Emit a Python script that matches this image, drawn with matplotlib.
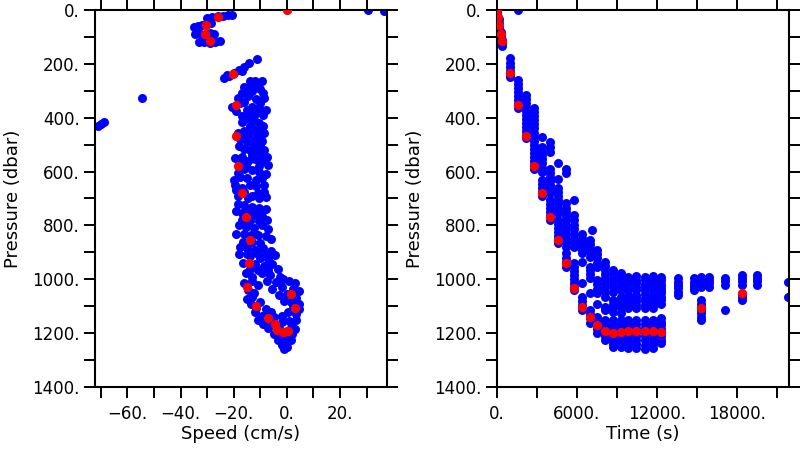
import numpy as np
import matplotlib.pyplot as plt
from matplotlib.ticker import MultipleLocator, FuncFormatter

plt.rcParams['font.family'] = ['DejaVu Sans']

surface = [(30.5, 0), (36.5, 2),
           (-30, 31), (-28, 27), (-26, 24), (-24, 22), (-22, 20), (-20.5, 18),
           (-35, 62), (-33.5, 58), (-32, 55), (-30, 52), (-28.5, 48),
           (-34.5, 90), (-33, 86), (-31.5, 92), (-29, 85), (-27.5, 90),
           (-33, 120), (-31, 118), (-29, 122), (-27, 118), (-25, 116)]
outliers = [(-54.4, 328), (-71, 430), (-70, 422), (-69, 415)]
upper = [(-23.8, 254), (-21.9, 245), (-20, 235), (-18.1, 223), (-16.2, 210),
         (-14.4, 198), (-22.5, 240), (-17, 228), (-11.3, 183),
         (-12, 262), (-9.5, 262), (-13.5, 275), (-11, 280), (-15.5, 295),
         (-13, 300), (-17, 310), (-9, 310), (-8.5, 328),
         (-14, 265), (-11, 270), (-16, 285), (-12.5, 290), (-10, 295),
         (-18.5, 325), (-14.5, 320), (-11.5, 330), (-16, 340), (-10, 345),
         (-20.5, 360), (-17.5, 345), (-15, 370), (-13, 360), (-10.5, 365),
         (-8, 372), (-12, 385), (-19, 375), (-14, 385), (-9, 390), (-17, 395),
         (-15, 400), (-12.5, 410), (-10.5, 420), (-14, 430), (-11, 445),
         (-16, 450), (-13, 460), (-17.5, 480), (-10, 470), (-15, 490),
         (-13, 440), (-15.5, 470), (-12, 475), (-9.5, 485),
         (-17, 415), (-9, 430), (-18.5, 455), (-8.5, 455), (-12.5, 490)]
middle = [(-12.5, 500), (-10, 500), (-14, 520), (-11, 525), (-8.5, 520), (-13, 540),
          (-18, 505), (-16, 515), (-9.5, 540), (-7.5, 545),
          (-19.5, 550), (-17, 545), (-14.5, 560), (-12, 555), (-9.5, 560), (-7, 575),
          (-18, 570), (-10.5, 580), (-15.5, 575),
          (-16, 590), (-13, 595), (-10.5, 600), (-8, 610), (-18.5, 605), (-20, 630),
          (-15, 625), (-11.5, 630), (-17.5, 620), (-9.5, 625),
          (-19.5, 650), (-17, 660), (-14, 650), (-11.5, 655), (-8.5, 650),
          (-16, 675), (-19, 670), (-14.5, 700), (-11, 680), (-8.5, 675),
          (-18.5, 690), (-13, 690), (-10.5, 700), (-8, 695),
          (-18.5, 720), (-16, 725), (-13, 730), (-10.5, 735), (-8, 740),
          (-15, 745), (-11, 750), (-19, 745),
          (-17, 755), (-12.5, 760), (-9.5, 765), (-7.5, 780),
          (-14, 785), (-17, 780), (-10.5, 785),
          (-18, 800), (-15.5, 805), (-12.5, 810), (-9.5, 800), (-7, 815),
          (-19, 830), (-11, 835), (-8, 840), (-6, 850), (-16.5, 860), (-10, 865),
          (-13.5, 835), (-16, 830), (-13, 860),
          (-17.5, 880), (-15, 885), (-12, 890), (-9, 885), (-6, 895),
          (-4.5, 910), (-14, 915), (-10, 920),
          (-15, 905), (-18, 905), (-11, 905), (-8, 910), (-7, 925)]
deep = [(-16.5, 940), (-12, 945), (-8.5, 950), (-5.5, 945), (-3.5, 960),
        (-15.5, 975), (-9.5, 975), (-6.5, 985), (-2.5, 990), (-13, 990),
        (-14, 960), (-11, 965), (-7, 965),
        (-16, 1015), (-13, 1005), (-7.5, 1005), (-4, 1010), (-1.5, 1000),
        (1, 1005), (3, 1015), (-5.5, 1035), (-2, 1030), (2.5, 1035), (4.5, 1045),
        (-11, 1020), (-14.5, 1040),
        (-12.5, 1050), (-13, 1065), (-3, 1060), (0, 1055), (3.5, 1070),
        (-15, 1075), (-1, 1080), (1.5, 1085),
        (-13.5, 1090), (-10, 1085), (-11.5, 1105), (-8, 1110), (4.5, 1090),
        (-12, 1120), (-9.5, 1135), (0.5, 1120), (3.5, 1130), (-2, 1135), (4.5, 1110),
        (-6, 1120), (2.5, 1100), (-7, 1140), (-5, 1140),
        (-11, 1150), (-9, 1165), (-5.5, 1160), (-2, 1160), (1, 1155), (3.5, 1150),
        (-7, 1180), (-3, 1180), (2, 1175), (3, 1185),
        (-5, 1205), (-2.5, 1210), (0.5, 1210), (2, 1205), (-3.5, 1225),
        (-4, 1200), (1, 1190),
        (-0.5, 1230), (1.5, 1225), (-2, 1245), (0, 1250), (-1, 1260), (-1.5, 1240)]

# bin averages (red)
speed_mean = [0, -26, -30.5, -30.7, -29, -20.1, -19.3, -19.0, -18.5, -16.8, -15.4,
              -13.8, -14.1, -15.0, -11.6, -6.9, -4.4, -3.8, -1.3, 0, 0.6, -1.0, 1.5, 3.1]
press_mean = [0, 25, 56, 88, 116, 238, 354, 467, 578, 678, 770,
              854, 941, 1030, 1100, 1143, 1166, 1188, 1194, 1192, 1191, 1197, 1055, 1108]

# Time columns (s) with the pressures (dbar) sampled in each
time_cols = [0, 150, 300, 400, 1000, 1625, 2200, 2800, 3400, 4000, 4600, 5200, 5825,
             6400, 7000, 7175, 7550, 8125, 8700, 9325, 9875, 10475, 11100, 11700,
             12300, 13575, 14775, 15350, 15950, 17150, 18375, 19500, 21875]
press_cols = [
    [0, 8, 18, 30, 45],
    [35, 50, 62, 75],
    [80, 95, 105],
    [110, 122, 132],
    [180, 195, 210, 225, 240, 250],
    [0, 260, 275, 290, 305, 320, 335, 350, 365],
    [315, 330, 345, 360, 375, 390, 405, 420, 435, 450, 465, 475],
    [365, 380, 395, 410, 425, 440, 455, 470, 485, 500, 515, 530, 545, 560, 575, 590],
    [470, 507, 525, 540, 555, 570, 585, 600, 630, 645, 660, 675, 690],
    [490, 510, 527, 590, 605, 620, 635, 650, 665, 680, 705, 720, 735, 750, 765, 780],
    [570, 628, 660, 675, 690, 705, 720, 740, 755, 780, 795, 810, 825, 840, 855, 866],
    [590, 606, 718, 735, 750, 765, 780, 800, 815, 830, 845, 860, 880, 904, 920, 935, 953],
    [706, 760, 780, 800, 815, 830, 850, 865, 880, 941, 955, 970, 985, 1000, 1015, 1030, 1040],
    [830, 845, 860, 875, 890, 904, 935, 1015, 1065, 1080, 1095, 1115],
    [854, 870, 885, 900, 916, 953, 967, 982, 997, 1052, 1115, 1130, 1145, 1164],
    [817],
    [891, 906, 922, 938, 953, 1003, 1018, 1035, 1052, 1090, 1139, 1154, 1170, 1185, 1201],
    [935, 950, 966, 982, 997, 1015, 1030, 1048, 1065, 1102, 1115, 1152, 1167, 1182, 1197,
     1212, 1226],
    [966, 982, 998, 1014, 1030, 1046, 1077, 1092, 1107, 1121, 1152, 1167, 1182, 1197, 1212,
     1227, 1240, 1251],
    [978, 993, 1008, 1024, 1040, 1065, 1080, 1092, 1102, 1127, 1152, 1167, 1182, 1197, 1212,
     1227, 1240, 1251],
    [990, 1003, 1016, 1028, 1040, 1058, 1070, 1083, 1095, 1108, 1152, 1167, 1182, 1197, 1212,
     1227, 1242, 1257],
    [988, 1002, 1015, 1028, 1040, 1058, 1070, 1082, 1095, 1108, 1150, 1165, 1180, 1196, 1211,
     1226, 1241, 1255],
    [990, 1003, 1016, 1028, 1041, 1056, 1069, 1082, 1096, 1108, 1152, 1167, 1182, 1197, 1212,
     1227, 1243, 1258],
    [989, 1002, 1015, 1028, 1040, 1057, 1070, 1083, 1095, 1107, 1151, 1166, 1181, 1196, 1211,
     1226, 1241, 1256],
    [990, 1003, 1016, 1028, 1040, 1052, 1065, 1078, 1090, 1145, 1158, 1170, 1183, 1197, 1212,
     1225, 1238],
    [997, 1010, 1022, 1034, 1046, 1058],
    [997, 1010, 1022, 1034, 1040],
    [990, 1003, 1015, 1027, 1077, 1090, 1102, 1115, 1127, 1140, 1152],
    [990, 1003, 1015, 1027],
    [997, 1008, 1020, 1115],
    [985, 997, 1008, 1020, 1058, 1068, 1077],
    [985, 997, 1008, 1020],
    [1009, 1065],
]

time_mean = [0, 80, 200, 300, 400, 1000, 1625, 2200, 2800, 3400, 4000, 4600, 5200, 5825,
             6400, 7000, 7550, 8125, 8700, 9325, 9875, 10475, 11100, 11700, 12300,
             15350, 18375]
press_tmean = [0, 25, 56, 88, 116, 234, 353, 467, 578, 678, 770, 854, 940, 1031,
               1102, 1140, 1170, 1191, 1198, 1195, 1193, 1193, 1193, 1193, 1195,
               1105, 1052]

left_pts = np.array(surface + outliers + upper + middle + deep)
t_blue = np.concatenate([np.full(len(p), t) for t, p in zip(time_cols, press_cols)])
p_blue = np.concatenate([np.array(p, dtype=float) for p in press_cols])


def fmt(v, pos):
    return f'{v:.0f}.'.replace('-', '\u2212')


fig = plt.figure(figsize=(8, 4.5), dpi=100)
ax1 = fig.add_axes([0.11875, 0.14, 0.365, 0.8378])
ax2 = fig.add_axes([0.6209, 0.14, 0.3654, 0.8378])

ax1.scatter(left_pts[:, 0], left_pts[:, 1], s=42, c='#0000ff', linewidths=0, zorder=2)
ax1.scatter(speed_mean, press_mean, s=44, c='#ff0000', linewidths=0, zorder=3)
ax1.set_xlim(-72.2, 37.7)
ax1.xaxis.set_major_locator(MultipleLocator(20))
ax1.xaxis.set_minor_locator(MultipleLocator(10))
ax1.set_xlabel('Speed (cm/s)', fontsize=13)

ax2.scatter(t_blue, p_blue, s=42, c='#0000ff', linewidths=0, zorder=2)
ax2.scatter(time_mean, press_tmean, s=44, c='#ff0000', linewidths=0, zorder=3)
ax2.set_xlim(0, 21920)
ax2.xaxis.set_major_locator(MultipleLocator(6000))
ax2.xaxis.set_minor_locator(MultipleLocator(3000))
ax2.set_xlabel('Time (s)', fontsize=13)

for ax in (ax1, ax2):
    ax.set_ylim(1400, 0)
    ax.yaxis.set_major_locator(MultipleLocator(200))
    ax.yaxis.set_minor_locator(MultipleLocator(100))
    ax.xaxis.set_major_formatter(FuncFormatter(fmt))
    ax.yaxis.set_major_formatter(FuncFormatter(fmt))
    ax.set_ylabel('Pressure (dbar)', fontsize=13)
    ax.yaxis.set_label_coords(-0.25, 0.5)
    ax.xaxis.set_label_coords(0.5, -0.1)
    ax.tick_params(which='both', direction='out', length=8, width=1.4,
                   top=True, right=True, labelsize=12)
    ax.tick_params(axis='x', pad=5)
    ax.tick_params(axis='y', pad=3)
    for sp in ax.spines.values():
        sp.set_linewidth(1.5)

plt.savefig('out.png', dpi=100)
plt.close()
